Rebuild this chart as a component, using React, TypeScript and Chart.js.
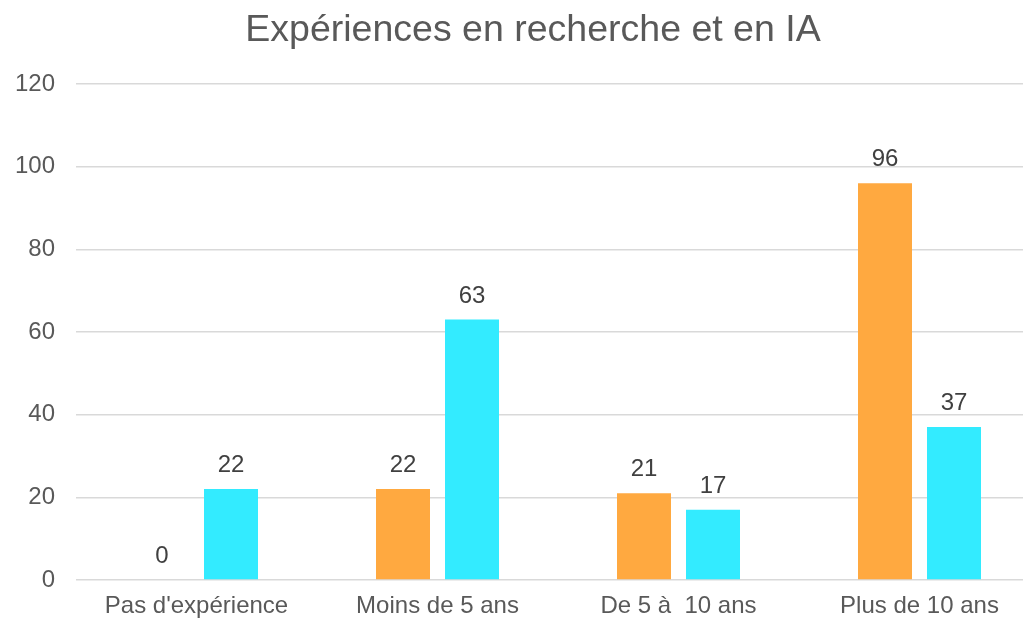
import React, { useEffect, useRef } from "react";
import { Chart, registerables } from "chart.js";

Chart.register(...registerables);

const categories = ["Pas d'expérience", "Moins de 5 ans", "De 5 à  10 ans", "Plus de 10 ans"];
const seriesOrange = [0, 22, 21, 96];
const seriesCyan = [22, 63, 17, 37];
const yTicks = [0, 20, 40, 60, 80, 100, 120];
const titleText = "Expériences en recherche et en IA";

const FONT = "'Liberation Sans', Arial, sans-serif";

const valueLabels = {
  id: "valueLabels",
  afterDatasetsDraw(chart: any) {
    const ctx = chart.ctx;
    ctx.save();
    ctx.font = `24px ${FONT}`;
    ctx.fillStyle = "#404040";
    ctx.textAlign = "center";
    ctx.textBaseline = "alphabetic";
    chart.data.datasets.forEach((ds: any, i: number) => {
      const meta = chart.getDatasetMeta(i);
      meta.data.forEach((el: any, j: number) => {
        ctx.fillText(String(ds.data[j]), el.x, el.y - 17);
      });
    });
    ctx.restore();
  },
};

const centeredTitle = {
  id: "centeredTitle",
  afterDraw(chart: any) {
    const ctx = chart.ctx;
    ctx.save();
    ctx.font = `37.5px ${FONT}`;
    ctx.fillStyle = "#595959";
    ctx.textAlign = "center";
    ctx.textBaseline = "middle";
    ctx.fillText(titleText, chart.width / 2, 31);
    ctx.restore();
  },
};

export default function App() {
  const ref = useRef<HTMLCanvasElement>(null);
  useEffect(() => {
    if (!ref.current) return;
    const chart = new Chart(ref.current, {
      type: "bar",
      data: {
        labels: categories,
        datasets: [
          {
            data: seriesOrange,
            backgroundColor: "#FFA940",
            categoryPercentage: 0.5726,
            barPercentage: 0.7826,
          },
          {
            data: seriesCyan,
            backgroundColor: "#33EBFF",
            categoryPercentage: 0.5726,
            barPercentage: 0.7826,
          },
        ],
      },
      options: {
        animation: false,
        responsive: false,
        maintainAspectRatio: false,
        layout: { padding: { top: 84, right: 26, left: 0, bottom: 0 } },
        plugins: {
          legend: { display: false },
          tooltip: { enabled: false },
          title: { display: false },
        },
        scales: {
          x: {
            grid: { display: false, drawTicks: false },
            border: { display: false },
            ticks: {
              color: "#595959",
              font: { family: FONT, size: 24 },
              padding: 12,
              maxRotation: 0,
              autoSkip: false,
            },
            afterFit(scale: any) {
              scale.height = 41;
            },
          },
          y: {
            min: 0,
            max: 120,
            grid: { color: "#D9D9D9", lineWidth: 1.5, drawTicks: false },
            border: { display: false },
            afterBuildTicks(scale: any) {
              scale.ticks = yTicks.map((v) => ({ value: v }));
            },
            ticks: {
              color: "#595959",
              font: { family: FONT, size: 24 },
              padding: 21,
            },
            afterFit(scale: any) {
              scale.width = 76;
            },
          },
        },
      },
      plugins: [valueLabels, centeredTitle],
    });
    return () => chart.destroy();
  }, []);
  return (
    <div style={{ position: "fixed", left: 0, top: 0, width: 1023, height: 621, overflow: "hidden", background: "#fff" }}>
      <div style={{ position: "absolute", left: 0, top: 0, width: 1066, height: 621 }}>
        <canvas ref={ref} width={1066} height={621} style={{ display: "block" }} />
      </div>
    </div>
  );
}
